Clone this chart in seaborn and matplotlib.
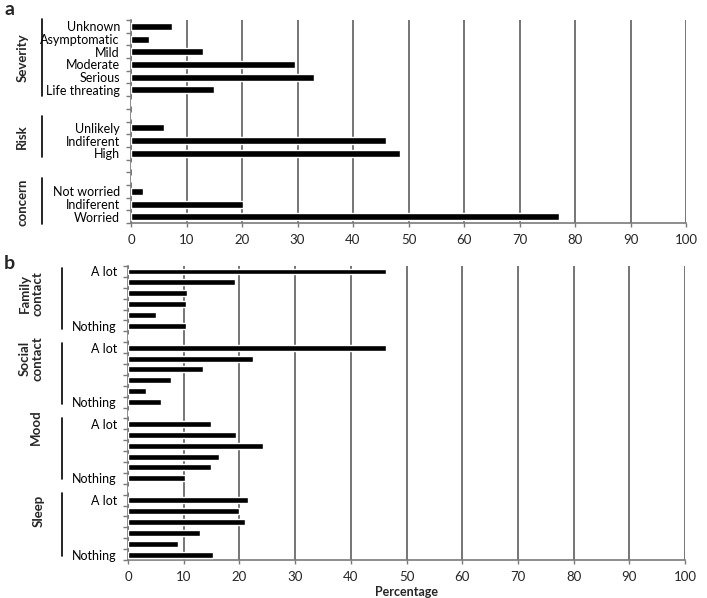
import matplotlib.pyplot as plt
import seaborn as sns
import pandas as pd
import numpy as np

# ---- data (percentages) ----
severity_labels = ["Unknown", "Asymptomatic", "Mild", "Moderate", "Serious", "Life threating"]
severity_vals = [7.4, 3.3, 12.9, 29.6, 33.0, 14.9]
risk_labels = ["Unlikely", "Indiferent", "High"]
risk_vals = [6.0, 45.9, 48.5]
concern_labels = ["Not worried", "Indiferent", "Worried"]
concern_vals = [2.2, 20.2, 77.1]

level_labels = ["A lot", "", "", "", "", "Nothing"]
family_vals = [46.4, 19.2, 10.6, 10.4, 5.0, 10.4]
social_vals = [46.4, 22.5, 13.4, 7.8, 3.3, 6.0]
mood_vals = [14.9, 19.4, 24.2, 16.3, 14.9, 10.2]
sleep_vals = [21.6, 20.0, 21.0, 12.9, 8.9, 15.3]

sns.set_theme(style='white')
plt.rcParams['font.family'] = ['Lato', 'DejaVu Sans']

GRID = '#5e5e5e'
AXIS = '#7a7a7a'


def build_rows(groups, gap):
    labels, vals = [], []
    for i, (labs, vs) in enumerate(groups):
        if i > 0:
            labels += [''] * gap
            vals += [0] * gap
        labels += labs
        vals += vs
    return labels, vals


def draw_panel(ax, labels, vals):
    df = pd.DataFrame({'row': [str(i) for i in range(len(labels))], 'value': vals})
    sns.barplot(data=df, x='value', y='row', orient='h', color='black', saturation=1,
                width=0.55, errorbar=None, ax=ax, zorder=3)
    n = len(labels)
    ax.set_yticks(range(n))
    ax.set_yticklabels(labels)
    ax.set_yticks(np.arange(-0.5, n), minor=True)
    ax.tick_params(axis='y', which='major', length=0, pad=8, labelsize=9, colors='black')
    ax.tick_params(axis='y', which='minor', length=3.5, width=1, color=AXIS, left=True)
    ax.set_xlim(0, 100)
    ax.set_xticks(range(0, 101, 10))
    ax.tick_params(axis='x', which='major', length=3, width=1, color=AXIS, bottom=True,
                   labelsize=9.5, pad=5)
    ax.xaxis.grid(True, color=GRID, lw=1.2, zorder=0)
    ax.set_axisbelow(True)
    ax.set_ylim(n - 0.5, -0.5)
    for s in ['top', 'right']:
        ax.spines[s].set_visible(False)
    for s in ['left', 'bottom']:
        ax.spines[s].set_color(AXIS)
        ax.spines[s].set_linewidth(1.2)
    ax.set_ylabel('')
    ax.set_xlabel('')


def group_label(ax, text, x_text, y_text, x_line, y0, y1):
    tr = ax.get_yaxis_transform()
    ax.plot([x_line, x_line], [y0, y1], color='black', lw=1.2, transform=tr, clip_on=False)
    ax.text(x_text, y_text, text, transform=tr, rotation=90, ha='center', va='center',
            fontsize=9.5, fontweight='bold', linespacing=1.0)


fig = plt.figure(figsize=(7.07, 5.98), dpi=100)
ax_a = fig.add_axes([0.1853, 0.627, 0.785, 0.3396])
ax_b = fig.add_axes([0.181, 0.0635, 0.788, 0.4916])

labels_a, vals_a = build_rows([(severity_labels, severity_vals),
                               (risk_labels, risk_vals),
                               (concern_labels, concern_vals)], 2)
draw_panel(ax_a, labels_a, vals_a)
group_label(ax_a, 'Severity', -0.196, 2.5, -0.160, -0.55, 5.5)
group_label(ax_a, 'Risk', -0.196, 8.7, -0.160, 7.1, 10.3)
group_label(ax_a, 'concern', -0.196, 13.9, -0.160, 11.95, 15.6)

labels_b, vals_b = build_rows([(level_labels, family_vals),
                               (level_labels, social_vals),
                               (level_labels, mood_vals),
                               (level_labels, sleep_vals)], 1)
draw_panel(ax_b, labels_b, vals_b)
group_label(ax_b, 'Family\ncontact', -0.174, 2.0, -0.118, -0.3, 5.3)
group_label(ax_b, 'Social\ncontact', -0.174, 8.0, -0.118, 6.55, 12.15)
group_label(ax_b, 'Mood', -0.166, 14.3, -0.118, 13.45, 19.1)
group_label(ax_b, 'Sleep', -0.160, 22.0, -0.118, 20.3, 26.1)
ax_b.set_xlabel('Percentage', fontsize=9, fontweight='bold', labelpad=2)

fig.text(0.006, 0.998, 'a', fontsize=14, fontweight='bold', va='top', ha='left')
fig.text(0.006, 0.573, 'b', fontsize=14, fontweight='bold', va='top', ha='left')

fig.savefig('out.png', dpi=100)
